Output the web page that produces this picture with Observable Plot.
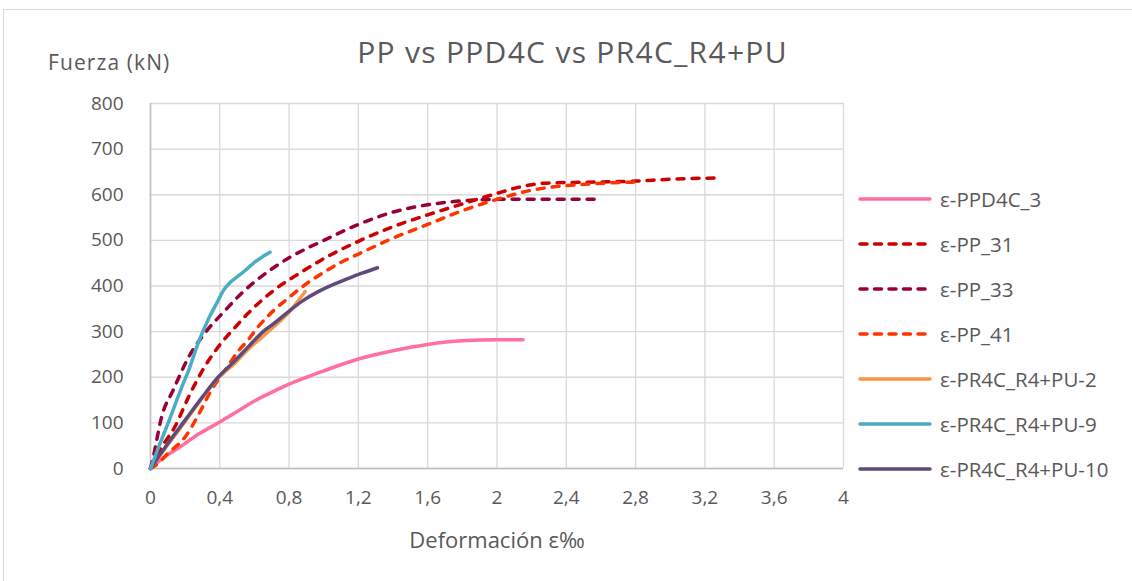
<!DOCTYPE html>
<html><head><meta charset="utf-8">
<script src="https://cdn.jsdelivr.net/npm/d3@7"></script>
<script src="https://cdn.jsdelivr.net/npm/@observablehq/plot@0.6"></script>
<style>
html,body{margin:0;padding:0;background:#fff;}
#wrap{position:relative;width:1132px;height:581px;overflow:hidden;font-family:"Open Sans",sans-serif;color:#595959;}
#frame{position:absolute;left:3px;top:9px;width:1140px;height:590px;border:1px solid #d9d9d9;box-sizing:border-box;}
#chart{position:absolute;left:0;top:0;}
.lbl{position:absolute;white-space:nowrap;line-height:1;}
#title{left:0;width:1145px;text-align:center;top:37px;font-size:30px;letter-spacing:1.3px;}
#ylab{left:48px;top:52px;font-size:21px;letter-spacing:1.1px;}
#xlab{left:0;width:994px;text-align:center;top:528px;font-size:22px;}
#legend{position:absolute;left:858px;top:176px;}
.item{display:flex;align-items:center;height:45px;font-size:20.5px;}
.item svg{margin-right:8px;}
</style>
</head><body>
<div id="wrap">
  <div id="frame"></div>
  <div id="chart"></div>
  <div class="lbl" id="title">PP vs PPD4C vs PR4C_R4+PU</div>
  <div class="lbl" id="ylab">Fuerza (kN)</div>
  <div class="lbl" id="xlab">Deformación ε‰</div>
  <div id="legend"></div>
</div>
<script>
// ---- data (strain ‰, force kN) ----
const seriesNames = ["ε-PPD4C_3","ε-PP_31","ε-PP_33","ε-PP_41","ε-PR4C_R4+PU-2","ε-PR4C_R4+PU-9","ε-PR4C_R4+PU-10"];
const ppd4c_3 = [[0,0],[0.08,25],[0.15,42],[0.28,76],[0.4,102],[0.5,125],[0.6,148],[0.7,167],[0.8,185],[0.9,200],[1.0,214],[1.2,240],[1.4,258],[1.6,272],[1.8,280],[2.0,282],[2.15,282]];
const pp_31 = [[0,0],[0.03,25],[0.064,47],[0.14,91],[0.22,157],[0.3,215],[0.39,266],[0.49,310],[0.56,339],[0.71,390],[0.86,428],[1.0,460],[1.2,498],[1.4,530],[1.6,556],[1.8,580],[2.0,603],[2.1,614],[2.2,622],[2.3,626],[2.6,628],[2.8,630],[3.0,634],[3.29,637]];
const pp_33 = [[0,0],[0.016,25],[0.064,113],[0.13,171],[0.22,244],[0.31,295],[0.43,346],[0.52,382],[0.62,415],[0.71,440],[0.8,462],[0.9,482],[1.0,500],[1.2,535],[1.4,562],[1.6,578],[1.75,585],[1.9,589],[2.0,590],[2.3,590],[2.59,590]];
const pp_41 = [[0,0],[0.04,10],[0.1,33],[0.2,69],[0.28,120],[0.35,171],[0.43,215],[0.51,259],[0.56,280],[0.62,310],[0.71,346],[0.8,375],[0.9,405],[1.0,430],[1.1,452],[1.2,470],[1.4,505],[1.6,535],[1.8,565],[2.0,590],[2.2,610],[2.4,620],[2.6,625],[2.82,628]];
const pu_2 = [[0,0],[0.1,52],[0.2,103],[0.3,155],[0.39,198],[0.49,232],[0.56,260],[0.65,290],[0.71,310],[0.8,343],[0.893,388]];
const pu_9 = [[0,0],[0.05,50],[0.1,98],[0.18,178],[0.22,215],[0.28,280],[0.33,324],[0.39,368],[0.42,390],[0.46,408],[0.5,420],[0.55,435],[0.6,452],[0.65,465],[0.69,474]];
const pu_10 = [[0,0],[0.1,55],[0.2,106],[0.3,157],[0.39,200],[0.49,237],[0.56,265],[0.65,300],[0.72,320],[0.8,345],[0.88,368],[0.96,386],[1.06,404],[1.15,418],[1.22,428],[1.31,440]];
const xTicks = [0,0.4,0.8,1.2,1.6,2,2.4,2.8,3.2,3.6,4];
const xTickLabels = ["0","0,4","0,8","1,2","1,6","2","2,4","2,8","3,2","3,6","4"];
const yTicks = [0,100,200,300,400,500,600,700,800];

// ---- styles ----
const seriesData = [ppd4c_3, pp_31, pp_33, pp_41, pu_2, pu_9, pu_10];
const colors = ["#FF6F9F","#CC0000","#990033","#FF3300","#F79646","#4BACC6","#604A7B"];
const dashed = [false,true,true,true,false,false,false];
const drawOrder = [0,2,1,3,4,6,5];
const lineW = 3.5;

const rows = seriesNames.map((n,i)=>seriesData[i].map(([x,y])=>({series:n,x,y})));

const marks = [
  Plot.gridX(xTicks,{stroke:"#d9d9d9",strokeOpacity:1,strokeWidth:1.3}),
  Plot.gridY(yTicks,{stroke:"#d9d9d9",strokeOpacity:1,strokeWidth:1.3}),
  Plot.ruleX([0],{stroke:"#bfbfbf",strokeWidth:1.5}),
  Plot.ruleY([0],{stroke:"#bfbfbf",strokeWidth:1.5}),
  Plot.axisY({ticks:yTicks,tickSize:0,tickPadding:27,label:null}),
  Plot.axisX({ticks:xTicks,tickSize:0,tickPadding:22,label:null,tickFormat:(d)=>xTickLabels[xTicks.indexOf(d)]})
];
for (const i of drawOrder) {
  marks.push(Plot.line(rows[i],{x:"x",y:"y",stroke:colors[i],strokeWidth:lineW,
    strokeLinecap:"round",strokeLinejoin:"round",curve:"monotone-x",
    strokeDasharray: dashed[i] ? "7,8" : null}));
}

const plot = Plot.plot({
  width:1132, height:581,
  marginLeft:150, marginRight:289, marginTop:103, marginBottom:113,
  x:{domain:[0,4]}, y:{domain:[0,800]},
  style:{fontSize:"19px",fontFamily:"'Open Sans',sans-serif",color:"#595959",background:"transparent"},
  marks
});
document.getElementById("chart").appendChild(plot);

// legend
const leg = document.getElementById("legend");
seriesNames.forEach((n,i)=>{
  const d = document.createElement("div"); d.className="item";
  d.innerHTML = `<svg width="74" height="8"><line x1="2" y1="4" x2="72" y2="4" stroke="${colors[i]}" stroke-width="${lineW}" stroke-linecap="round" ${dashed[i]?'stroke-dasharray="7,7.5"':''}/></svg><span>${n}</span>`;
  leg.appendChild(d);
});
</script>
</body></html>
